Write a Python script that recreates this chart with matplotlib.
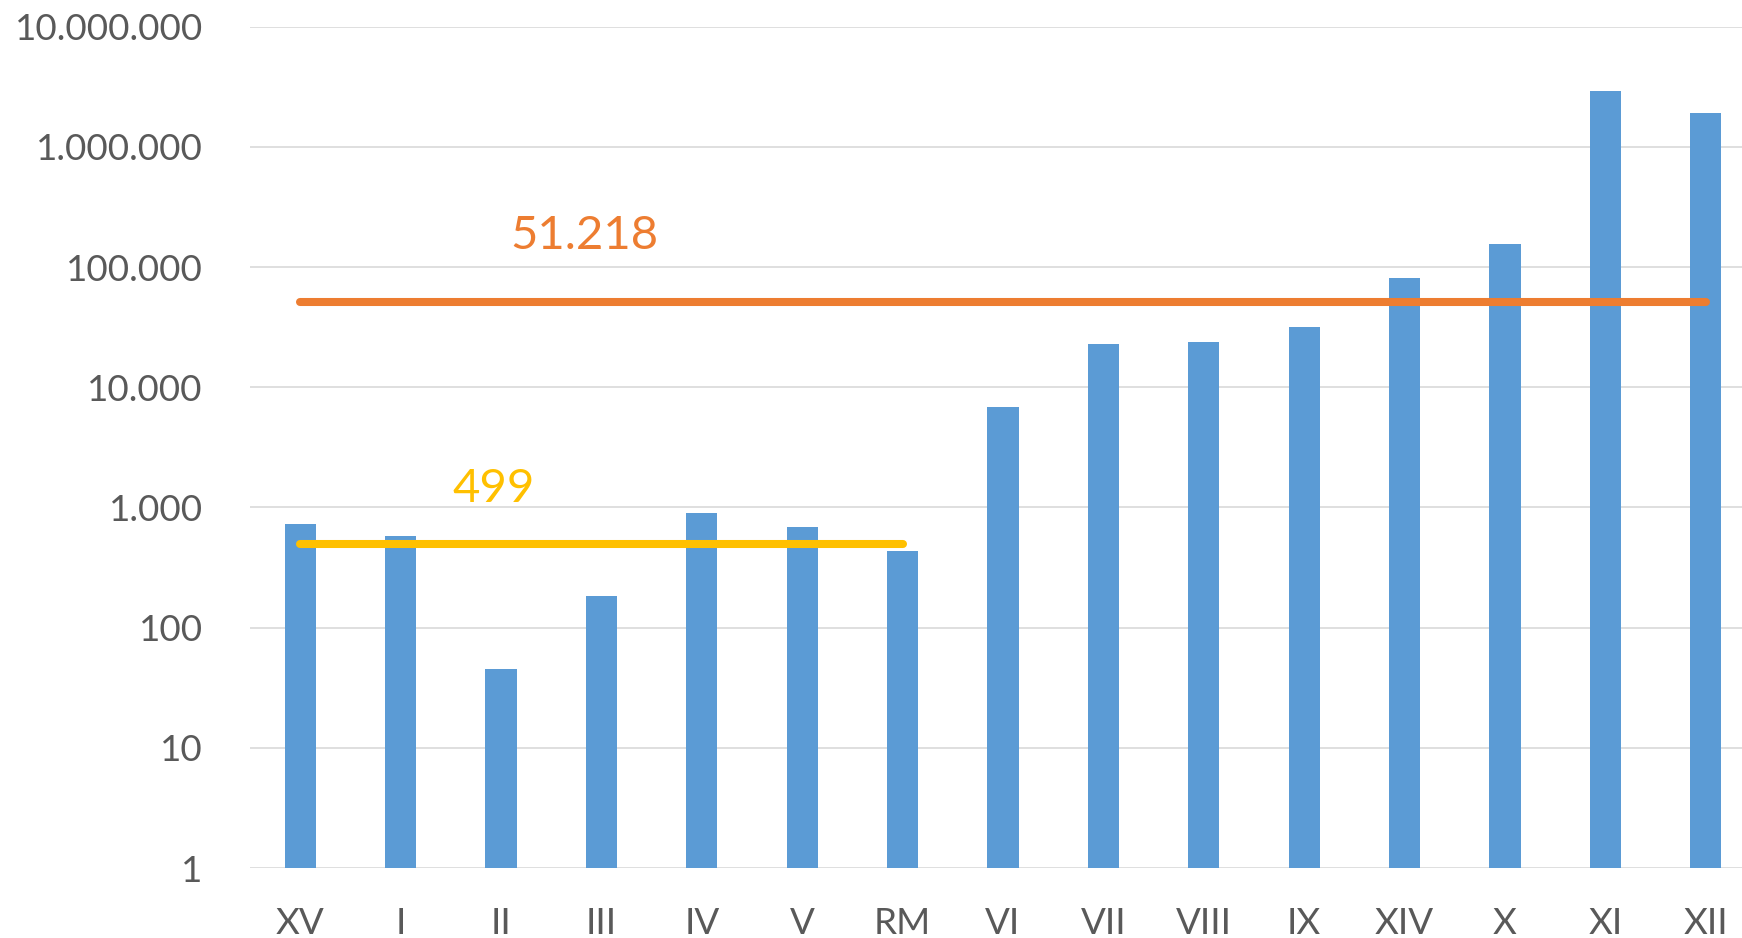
import matplotlib
matplotlib.use("Agg")
import matplotlib.pyplot as plt
from matplotlib.ticker import FixedLocator, FuncFormatter, NullLocator

categories = ["XV", "I", "II", "III", "IV", "V", "RM", "VI", "VII", "VIII",
              "IX", "XIV", "X", "XI", "XII"]
values = [722, 583, 45, 185, 893, 692, 433, 6850, 22700, 23700,
          31900, 81500, 155000, 2930000, 1915000]

avg_small_value = 499
avg_small_range = ["XV", "RM"]
avg_all_value = 51218
avg_all_range = ["XV", "XII"]

y_ticks = [1, 10, 100, 1000, 10000, 100000, 1000000, 10000000]

BAR = "#5B9BD5"
ORANGE = "#ED7D31"
YELLOW = "#FFC000"
TXT = "#595959"
GRID = "#D9D9D9"

plt.rcParams["font.family"] = ["Lato", "DejaVu Sans"]

W, H = 1742, 938
fig = plt.figure(figsize=(W / 100, H / 100), dpi=100)
ax_left = 250 / W
ax_right = 1756 / W
ax_bottom = (H - 868) / H
ax_top = (H - 26.7) / H
ax = fig.add_axes([ax_left, ax_bottom, ax_right - ax_left, ax_top - ax_bottom])

x = list(range(len(categories)))
ax.bar(x, values, width=0.31, color=BAR, zorder=2)

i0, i1 = categories.index(avg_all_range[0]), categories.index(avg_all_range[1])
ax.plot([i0, i1], [avg_all_value] * 2, color=ORANGE, lw=5.8,
        solid_capstyle="round", zorder=3)
j0, j1 = categories.index(avg_small_range[0]), categories.index(avg_small_range[1])
ax.plot([j0, j1], [avg_small_value] * 2, color=YELLOW, lw=5.8,
        solid_capstyle="round", zorder=3)

fmt = lambda v: f"{int(round(v)):,}".replace(",", ".")
ax.text(2.83, 180000, fmt(avg_all_value), color=ORANGE, fontsize=34,
        ha="center", va="center", zorder=4)
ax.text(1.93, 1417, fmt(avg_small_value), color=YELLOW, fontsize=34,
        ha="center", va="center", zorder=4)

ax.set_yscale("log")
ax.set_ylim(1, 1e7)
ax.set_xlim(-0.5, len(categories) - 0.5)
ax.yaxis.set_major_locator(FixedLocator(y_ticks))
ax.yaxis.set_minor_locator(NullLocator())
ax.yaxis.set_major_formatter(FuncFormatter(lambda v, p: fmt(v)))
ax.set_xticks(x)
ax.set_xticklabels(categories)

ax.grid(axis="y", color=GRID, lw=1.2, zorder=0)
ax.set_axisbelow(True)
for s in ax.spines.values():
    s.set_visible(False)
ax.tick_params(axis="both", length=0, labelsize=26.5, labelcolor=TXT)
ax.tick_params(axis="y", pad=34)
ax.tick_params(axis="x", pad=28)

fig.savefig("out.png", dpi=100)
